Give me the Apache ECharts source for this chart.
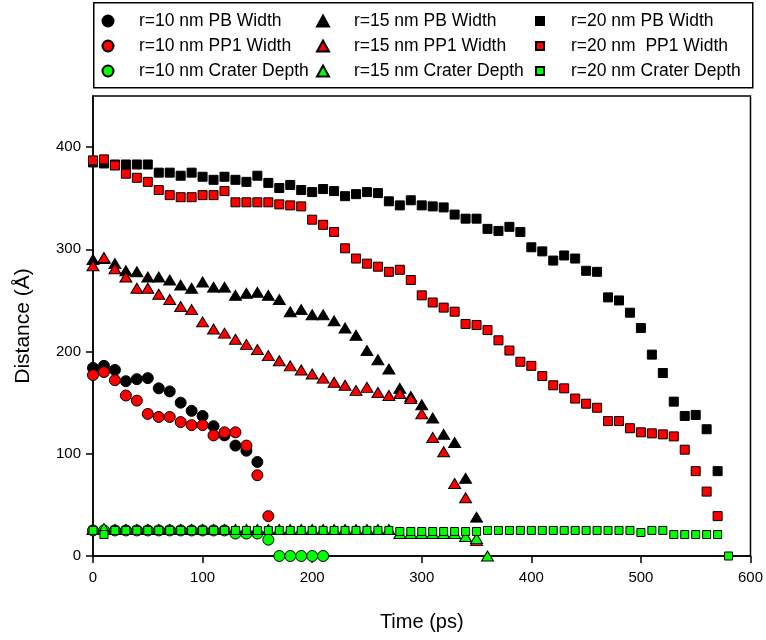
<!DOCTYPE html>
<html>
<head>
<meta charset="utf-8">
<script src="https://cdn.jsdelivr.net/npm/echarts@6/dist/echarts.min.js"></script>
<style>html,body{margin:0;padding:0;background:#fff;}#c{width:766px;height:640px;}</style>
</head>
<body>
<div id="c"></div>
<script>
// ---- data (time in ps, distance in Å) ----
const t10PB = [0,10,20,30,40,50,60,70,80,90,100,110,120,130,140,150];
const v10PB = [184,186,182,171,173,174,164,161,150,142,137,127,118,108,103,92];
const t10PP1 = [0,10,20,30,40,50,60,70,80,90,100,110,120,130,140,150,160];
const v10PP1 = [177,180,172,157,152,139,136,136,131,128,128,118,121,121,108,79,39];
const t10CD = [0,10,20,30,40,50,60,70,80,90,100,110,120,130,140,150,160,170,180,190,200,210];
const v10CD = [25,25,25,25,25,25,25,25,25,25,25,25,25,22,22,22,16,0,0,0,0,0];

const t15PB = [0,10,20,30,40,50,60,70,80,90,100,110,120,130,140,150,160,170,180,190,200,210,220,230,240,250,260,270,280,290,300,310,320,330,340,350];
const v15PB = [290,291,286,279,278,273,273,270,265,262,268,263,263,255,257,258,255,251,239,241,236,236,230,223,216,201,192,183,164,156,148,135,119,111,76,38];
const t15PP1 = [0,10,20,30,40,50,60,70,80,90,100,110,120,130,140,150,160,170,180,190,200,210,220,230,240,250,260,270,280,290,300,310,320,330,340,350];
const v15PP1 = [284,292,281,273,262,262,256,251,244,241,229,222,218,212,207,202,196,191,186,182,178,174,170,167,162,165,160,157,159,154,139,116,102,71,57,15];
const t15CD = [0,10,20,30,40,50,60,70,80,90,100,110,120,130,140,150,160,170,180,190,200,210,220,230,240,250,260,270,280,290,300,310,320,330,340,350,360];
const v15CD = [26,27,26,26,26,26,26,26,26,26,26,26,26,26,26,26,26,26,26,26,26,26,26,26,26,26,26,26,22,22,22,22,22,22,19,17,0];

const t20PB = [0,10,20,30,40,50,60,70,80,90,100,110,120,130,140,150,160,170,180,190,200,210,220,230,240,250,260,270,280,290,300,310,320,330,340,350,360,370,380,390,400,410,420,430,440,450,460,470,480,490,500,510,520,530,540,550,560,570];
const v20PB = [385,384,383,383,383,383,375,375,372,375,371,368,371,368,366,372,365,360,363,358,356,359,357,352,354,356,355,347,343,348,343,342,341,334,330,330,320,318,322,317,302,298,289,294,291,279,278,253,250,238,223,197,179,151,137,138,124,83];
const t20PP1 = [0,10,20,30,40,50,60,70,80,90,100,110,120,130,140,150,160,170,180,190,200,210,220,230,240,250,260,270,280,290,300,310,320,330,340,350,360,370,380,390,400,410,420,430,440,450,460,470,480,490,500,510,520,530,540,550,560,570];
const v20PP1 = [387,388,382,374,370,366,358,353,351,351,353,353,357,346,346,346,346,344,343,342,329,324,317,301,291,286,283,278,280,270,255,248,243,239,227,226,221,211,201,190,186,176,167,164,154,149,145,132,132,125,121,120,119,117,104,83,63,39];
const t20CD = [0,10,20,30,40,50,60,70,80,90,100,110,120,130,140,150,160,170,180,190,200,210,220,230,240,250,260,270,280,290,300,310,320,330,340,350,360,370,380,390,400,410,420,430,440,450,460,470,480,490,500,510,520,530,540,550,560,570,580];
const v20CD = [25,21,25,25,25,25,25,25,25,25,25,25,25,25,25,25,25,25,25,25,25,25,25,25,25,25,25,25,24,24,24,24,24,24,24,24,25,25,25,25,25,25,25,25,25,25,25,25,25,25,23,25,25,21,21,21,21,21,0];

const xTicks = [0,100,200,300,400,500,600];
const yTicks = [0,100,200,300,400];

const names = {
  a1:'r=10 nm PB Width', a2:'r=10 nm PP1 Width', a3:'r=10 nm Crater Depth',
  b1:'r=15 nm PB Width', b2:'r=15 nm PP1 Width', b3:'r=15 nm Crater Depth',
  c1:'r=20 nm PB Width', c2:'r=20 nm  PP1 Width', c3:'r=20 nm Crater Depth'
};

const BLACK='#000000', RED='#ff0000', GREEN='#00ff00';
const FONT='"Liberation Sans", Arial, sans-serif';

function pairs(t, v){ return t.map((x,i)=>[x, v[i]]); }
function ser(name, t, v, symbol, size, color){
  return {
    type:'scatter', name:name, data:pairs(t,v), symbol:symbol, symbolSize:size,
    symbolKeepAspect:true,
    clip:false, animation:false,
    itemStyle:{color:color, borderColor:'#000', borderWidth:1, opacity:1},
    emphasis:{disabled:true}
  };
}

const TRI=[12,10];
const series = [
  ser(names.a1, t10PB, v10PB, 'circle', 11, BLACK),
  ser(names.a2, t10PP1, v10PP1, 'circle', 11, RED),
  ser(names.b1, t15PB, v15PB, 'triangle', TRI, BLACK),
  ser(names.b2, t15PP1, v15PP1, 'triangle', TRI, RED),
  ser(names.c1, t20PB, v20PB, 'rect', 9, BLACK),
  ser(names.c2, t20PP1, v20PP1, 'rect', 9, RED),
  ser(names.a3, t10CD, v10CD, 'circle', 11, GREEN),
  ser(names.b3, t15CD, v15CD, 'triangle', TRI, GREEN),
  ser(names.c3, t20CD, v20CD, 'rect', 8, GREEN)
];

// iconCenter: x of symbol centre, textX: x where text starts
function legend(iconCenter, textX, data, iw, ih){
  const left = iconCenter - iw/2;
  const pad = textX - (left + iw + 5);
  return {
    orient:'vertical', left:left, top:12, padding:0, itemGap:7,
    itemWidth:iw, itemHeight:ih, selectedMode:false, symbolKeepAspect:true,
    data:data,
    textStyle:{fontFamily:FONT, fontSize:17.5, color:'#000', lineHeight:18, padding:[0,0,0,pad]}
  };
}

const chart = echarts.init(document.getElementById('c'), null, {renderer:'canvas'});
chart.setOption({
  backgroundColor:'#fff',
  animation:false,
  graphic:[{
    type:'rect', left:93, top:2, z:-1,
    shape:{width:659, height:85},
    style:{fill:'#fff', stroke:'#000', lineWidth:1.5}
  }],
  legend:[
    legend(107, 138, [names.a1, names.a2, names.a3], 11, 11),
    legend(322, 353, [names.b1, names.b2, names.b3], 12, 11),
    legend(539, 570, [names.c1, names.c2, names.c3], 8, 8)
  ],
  grid:{left:93, right:15, top:96, bottom:84, show:true, borderColor:'#000', borderWidth:1.5, backgroundColor:'transparent'},
  xAxis:{
    type:'value', min:xTicks[0], max:xTicks[xTicks.length-1], interval:100,
    name:'Time (ps)', nameLocation:'middle', nameGap:56,
    nameTextStyle:{fontFamily:FONT, fontSize:20, color:'#000'},
    axisLine:{show:true, onZero:false, lineStyle:{color:'#000', width:1.5}},
    axisTick:{show:true, inside:false, length:7, lineStyle:{color:'#000', width:1.5}},
    axisLabel:{fontFamily:FONT, fontSize:15, color:'#000', margin:14},
    splitLine:{show:false}
  },
  yAxis:{
    type:'value', min:0, max:450,
    name:'Distance (Å)', nameLocation:'middle', nameGap:59,
    nameTextStyle:{fontFamily:FONT, fontSize:21, color:'#000'},
    axisLine:{show:true, onZero:false, lineStyle:{color:'#000', width:1.5}},
    axisTick:{show:true, inside:false, length:7, customValues:yTicks, lineStyle:{color:'#000', width:1.5}},
    axisLabel:{fontFamily:FONT, fontSize:15, color:'#000', margin:12, customValues:yTicks},
    splitLine:{show:false}
  },
  series:series
});
</script>
</body>
</html>
